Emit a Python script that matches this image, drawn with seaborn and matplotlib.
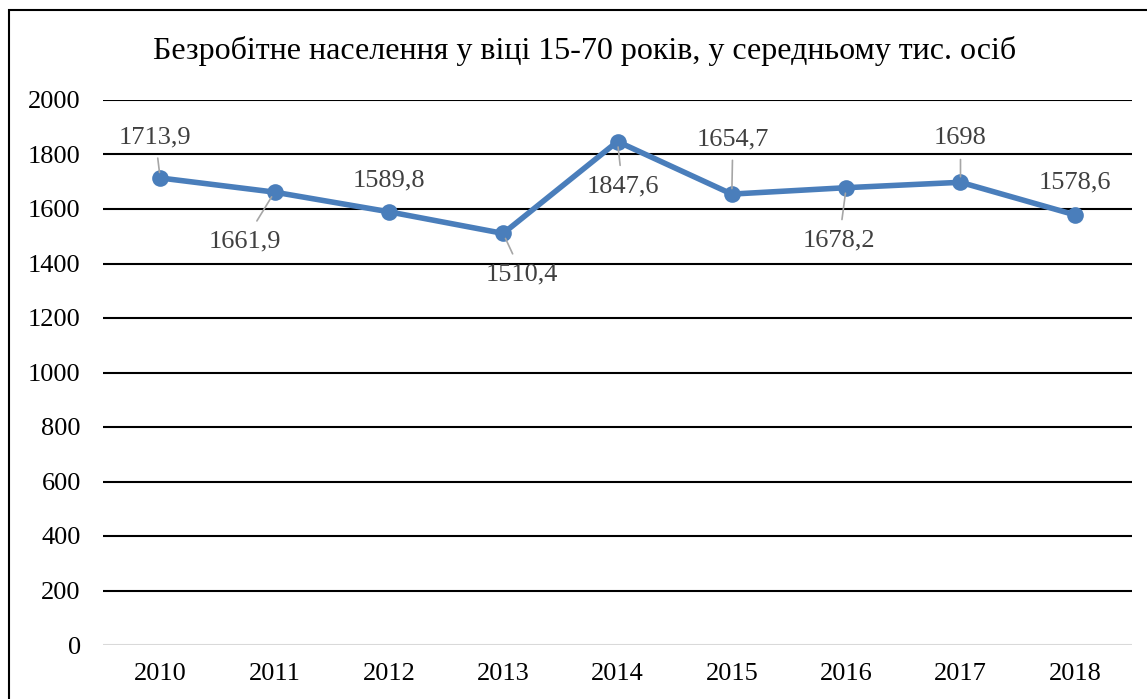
import matplotlib
matplotlib.use("Agg")
import matplotlib.pyplot as plt
import pandas as pd
import seaborn as sns
from matplotlib.patches import Rectangle

# Data
years = ["2010", "2011", "2012", "2013", "2014", "2015", "2016", "2017", "2018"]
unemployed = [1713.9, 1661.9, 1589.8, 1510.4, 1847.6, 1654.7, 1678.2, 1698, 1578.6]
labels = ["1713,9", "1661,9", "1589,8", "1510,4", "1847,6", "1654,7", "1678,2", "1698", "1578,6"]
y_ticks = [0, 200, 400, 600, 800, 1000, 1200, 1400, 1600, 1800, 2000]
title = "Безробітне населення у віці 15-70 років, у середньому тис. осіб"

# label offsets (pixels) and whether a leader line is drawn
offsets = [(-5, 41), (-30, -49), (0, 31), (19, -41), (5, -45), (1, 55), (-7, -53), (0, 44), (0, 32)]
leaders = [True, True, False, True, True, True, True, True, False]

sns.set_style("white")
plt.rcParams["font.family"] = ["Liberation Serif", "DejaVu Serif"]

df = pd.DataFrame({"year": years, "value": unemployed})

fig = plt.figure(figsize=(11.47, 6.99), dpi=100)
ax = fig.add_axes([103 / 1147, 1 - 645 / 699, (1132 - 103) / 1147, (645 - 100) / 699])

sns.lineplot(data=df, x="year", y="value", ax=ax, color="#4a7ebb", linewidth=4,
             marker="o", markersize=12, markeredgewidth=0, sort=False)

ax.set_xlim(-0.5, len(years) - 0.5)
ax.set_ylim(0, 2000)
ax.set_yticks(y_ticks)
ax.set_xlabel("")
ax.set_ylabel("")
for s in ax.spines.values():
    s.set_visible(False)
ax.tick_params(axis="both", length=0, labelsize=19, colors="black")
ax.tick_params(axis="y", pad=16)
ax.tick_params(axis="x", pad=13)
ax.yaxis.grid(True, color="black", linewidth=1.5)
ax.xaxis.grid(False)
ax.set_axisbelow(True)
ax.get_ygridlines()[0].set_color("#d9d9d9")

for i, (lab, val) in enumerate(zip(labels, unemployed)):
    dx, dy = offsets[i]
    kw = {}
    if leaders[i]:
        kw["arrowprops"] = dict(arrowstyle="-", color="#a6a6a6", lw=1.2, shrinkA=5, shrinkB=4)
    ax.annotate(lab, (i, val), xytext=(dx, dy), textcoords="offset pixels",
                ha="center", va="center", fontsize=19, color="#404040", **kw)

fig.text(585 / 1147, 1 - 51 / 699, title, ha="center", va="center", fontsize=23, color="black")

fig.patches.append(Rectangle((9 / 1147, -0.1), 1.2, 1 - 10 / 699 + 0.1, transform=fig.transFigure,
                             fill=False, edgecolor="black", linewidth=1.5))

fig.savefig("out.png", dpi=100)
